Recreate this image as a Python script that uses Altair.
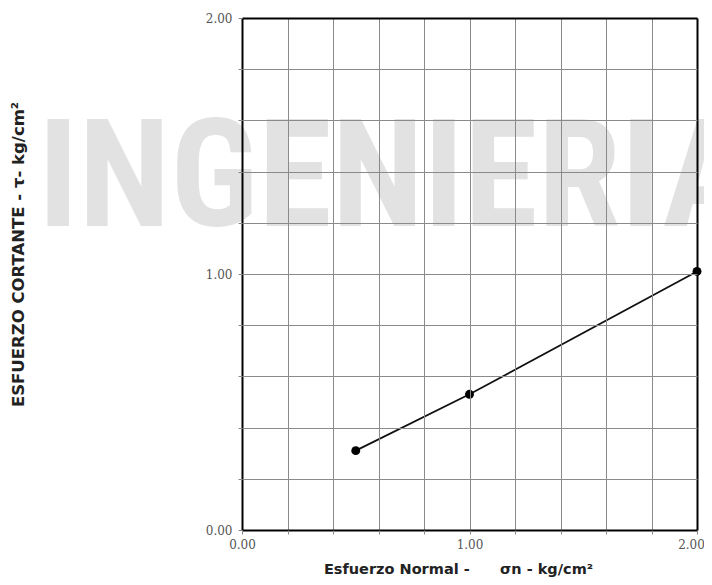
import altair as alt
import pandas as pd

# Data
sigma_n = [0.5, 1.0, 2.0]
tau = [0.31, 0.53, 1.01]
grid_values = [0.0, 0.2, 0.4, 0.6, 0.8, 1.0, 1.2, 1.4, 1.6, 1.8, 2.0]
x_title = "Esfuerzo Normal -\u00a0\u00a0\u00a0\u00a0\u00a0\u00a0σn - kg/cm²"
y_title = "ESFUERZO CORTANTE - τ- kg/cm²"
watermark = ["INGENIERIA"]

df = pd.DataFrame({"sn": sigma_n, "tau": tau})
wm = pd.DataFrame({"t": watermark})

label_expr = "abs(datum.value - round(datum.value)) < 0.001 ? format(datum.value, '.2f') : ''"
edge_test = "datum.value < 0.001 || datum.value > 1.999"
grid_color = {"condition": {"test": edge_test, "value": "#000000"}, "value": "#8a8a8a"}
grid_width = {"condition": {"test": edge_test, "value": 2}, "value": 1}

common = dict(
    values=grid_values, labelExpr=label_expr,
    grid=True, gridColor=grid_color, gridWidth=grid_width, gridOpacity=1,
    domain=False, ticks=True, tickSize=4, tickColor="#888888",
    labelFont="DejaVu Serif", labelFontSize=12, labelColor="#555555",
    labelFlush=False, zindex=1,
)
x_axis = alt.Axis(
    title=x_title, labelPadding=5,
    labelOffset={"condition": {"test": "datum.value > 1.999", "value": -6}, "value": 0},
    titleFont="DejaVu Sans", titleFontWeight="bold", titleFontSize=14.5,
    titleColor="#222222", titleX=216, titleAlign="center", titleY=39,
    titleBaseline="middle", **common,
)
y_axis = alt.Axis(
    title=y_title, labelPadding=6, labelBaseline="middle",
    titleFont="DejaVu Sans", titleFontWeight="bold", titleFontSize=16.5,
    titleColor="#222222", titleX=-224, titleY=236, titleAngle=270,
    titleAlign="center", titleBaseline="middle", **common,
)

xs = alt.Scale(domain=[0, 2], nice=False, zero=False)
ys = alt.Scale(domain=[0, 2], nice=False, zero=False)

mark_wm = alt.Chart(wm).mark_text(
    font="Liberation Sans Narrow, Arial Narrow, Noto Sans Condensed, Roboto Condensed, Open Sans Condensed, DejaVu Sans Condensed, Liberation Sans",
    fontWeight="bold", fontSize=150, color="#e2e2e2", align="left",
    baseline="alphabetic", clip=False,
).encode(text="t:N", x=alt.value(-204), y=alt.value(208))

base = alt.Chart(df).encode(
    x=alt.X("sn:Q", scale=xs, axis=x_axis),
    y=alt.Y("tau:Q", scale=ys, axis=y_axis),
)
line = base.mark_line(color="#111111", strokeWidth=1.8)
pts = base.mark_circle(color="#000000", size=80, opacity=1)

chart = alt.layer(mark_wm, line, pts).properties(
    width=455, height=512,
    autosize=alt.AutoSizeParams(type="none"),
    padding={"left": 234, "top": 10, "right": 7, "bottom": 47},
).configure_view(stroke="#000000", strokeWidth=2).configure(background="#ffffff")

chart.save("out.html", embed_options={"renderer": "svg", "actions": False})
